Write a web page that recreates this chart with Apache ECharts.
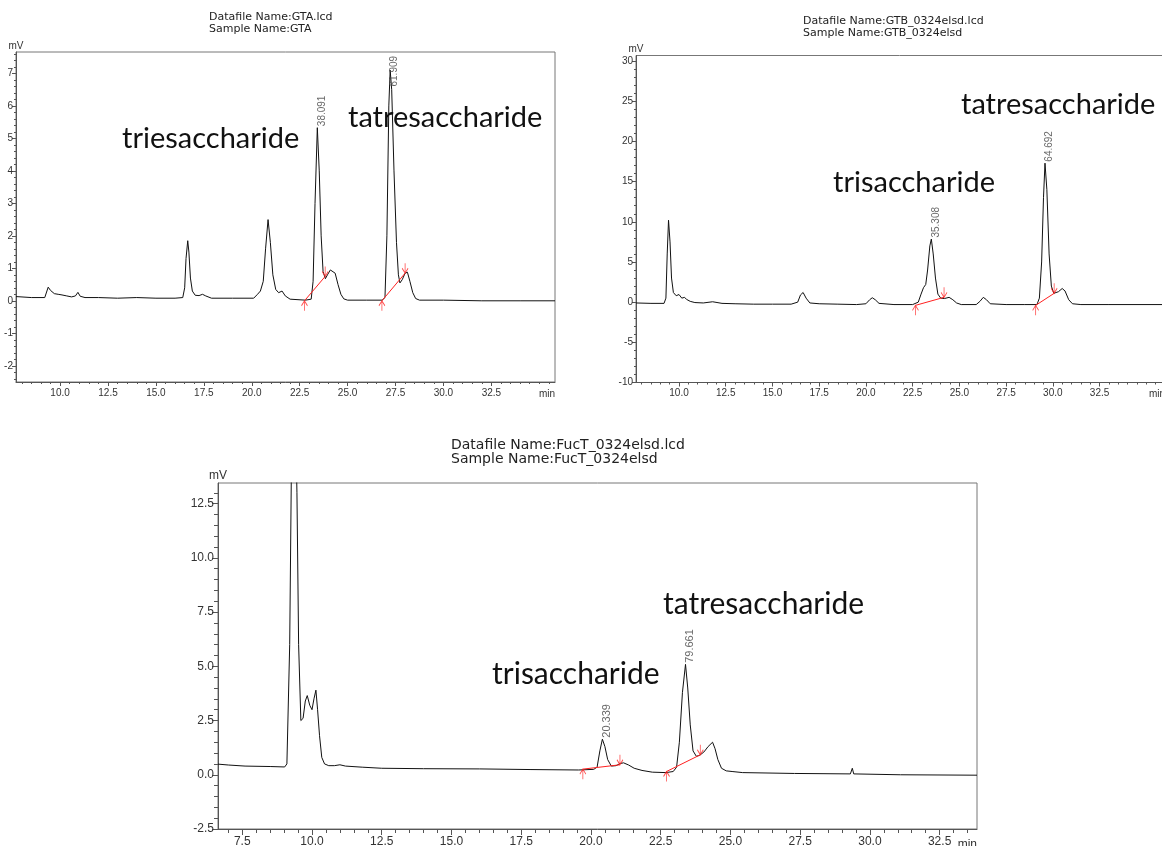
<!DOCTYPE html>
<html><head><meta charset="utf-8">
<script src="https://cdn.jsdelivr.net/npm/echarts@6/dist/echarts.min.js"></script>
<style>html,body{margin:0;padding:0;background:#fff}#c{width:1162px;height:846px}</style>
</head><body><div id="c"></div>
<script>
// ---------- DATA ----------
// GTA chromatogram (top-left): [time min, signal mV]
const gtaTrace = [[7.7,0.13],[8.5,0.1],[9.2,0.1],[9.3,0.15],[9.38,0.42],[9.5,0.32],[9.7,0.22],[9.9,0.2],[10.1,0.18],[10.2,0.21],[10.35,0.15],[10.6,0.12],[10.8,0.15],[10.93,0.26],[11.05,0.14],[11.3,0.1],[12,0.1],[13,0.08],[14,0.1],[15,0.08],[16,0.08],[16.4,0.1],[16.5,0.4],[16.57,1.3],[16.66,1.85],[16.72,1.5],[16.8,0.7],[16.9,0.3],[17.05,0.17],[17.25,0.16],[17.43,0.2],[17.6,0.15],[17.9,0.08],[19,0.08],[20.1,0.08],[20.3,0.2],[20.45,0.3],[20.6,0.6],[20.72,1.6],[20.85,2.5],[20.97,1.8],[21.1,0.8],[21.25,0.35],[21.4,0.25],[21.58,0.3],[21.75,0.15],[22.0,0.05],[22.8,0.02],[23.1,0.05],[23.2,0.6],[23.3,3.0],[23.42,5.33],[23.52,4.0],[23.62,2.0],[23.72,0.9],[23.84,0.68],[23.95,0.8],[24.1,0.95],[24.2,0.93],[24.35,0.85],[24.5,0.5],[24.65,0.2],[24.8,0.06],[25.0,0.02],[26.0,0.02],[26.8,0.02],[26.95,0.1],[27.05,2.0],[27.15,6.0],[27.22,7.1],[27.3,6.5],[27.42,4.0],[27.55,1.8],[27.65,0.8],[27.73,0.55],[27.85,0.65],[28.0,0.85],[28.12,0.88],[28.25,0.6],[28.4,0.25],[28.55,0.07],[28.75,0.02],[30,0.02],[32,0.0],[34,0.0],[35.82,0.0]];
const gtaBaselines = [[[22.75,0.0],[23.83,0.75]],[[26.79,0.0],[28.0,0.85]]];
const gtaPeaks = [[23.42,5.33,'38.091'],[27.22,7.1,'61.909']];
const gtaXTicks = [10,12.5,15,17.5,20,22.5,25,27.5,30,32.5];
const gtaYTicks = [-2,-1,0,1,2,3,4,5,6,7];

// GTB chromatogram (top-right)
const gtbTrace = [[7.7,-0.1],[8.5,-0.15],[9.2,-0.15],[9.3,0.5],[9.37,6.0],[9.44,10.2],[9.52,7.5],[9.6,3.0],[9.7,1.2],[9.85,0.8],[10.0,0.95],[10.15,0.5],[10.3,0.6],[10.4,0.35],[10.6,0.1],[10.85,-0.05],[11.3,-0.1],[11.8,0.05],[12.3,-0.15],[13,-0.2],[14,-0.25],[15,-0.25],[16.0,-0.25],[16.35,0.0],[16.5,0.9],[16.64,1.2],[16.8,0.5],[17.0,-0.1],[17.5,-0.2],[18.5,-0.25],[19.5,-0.3],[20.0,-0.2],[20.2,0.3],[20.34,0.55],[20.5,0.3],[20.7,-0.15],[21.5,-0.3],[22.5,-0.3],[22.8,0.0],[22.95,1.0],[23.08,1.8],[23.2,2.2],[23.3,4.0],[23.42,7.0],[23.5,7.85],[23.6,6.0],[23.72,3.0],[23.85,1.0],[24.0,0.5],[24.2,0.45],[24.45,0.6],[24.65,0.3],[24.85,-0.1],[25.1,-0.3],[25.9,-0.3],[26.1,0.1],[26.28,0.6],[26.45,0.3],[26.65,-0.2],[27.5,-0.3],[28.5,-0.3],[29.15,-0.3],[29.28,0.5],[29.4,5.0],[29.5,13.0],[29.58,17.3],[29.68,14.0],[29.8,6.0],[29.92,2.0],[30.05,1.1],[30.3,1.3],[30.5,1.7],[30.65,1.4],[30.85,0.3],[31.05,-0.2],[31.5,-0.3],[33,-0.3],[36.0,-0.3]];
const gtbBaselines = [[[22.65,-0.4],[24.18,0.6]],[[29.08,-0.4],[30.07,1.1]]];
const gtbPeaks = [[23.5,7.85,'35.308'],[29.58,17.3,'64.692']];
const gtbXTicks = [10,12.5,15,17.5,20,22.5,25,27.5,30,32.5];
const gtbYTicks = [-10,-5,0,5,10,15,20,25,30];

// FucT chromatogram (bottom)
const fucTrace = [[6.63,0.49],[7.0,0.45],[7.6,0.4],[8.5,0.38],[9.02,0.36],[9.1,0.5],[9.2,6.0],[9.26,14.0],[9.36,20.0],[9.46,13.0],[9.52,6.0],[9.6,2.5],[9.68,2.6],[9.76,3.4],[9.83,3.65],[9.92,3.2],[10.0,3.0],[10.07,3.5],[10.14,3.9],[10.2,3.0],[10.27,1.8],[10.35,0.8],[10.45,0.5],[10.6,0.42],[10.8,0.42],[11.0,0.46],[11.2,0.4],[11.8,0.35],[12.5,0.3],[14,0.28],[16,0.27],[17.85,0.24],[19.56,0.22],[20.1,0.25],[20.22,0.35],[20.32,1.1],[20.41,1.64],[20.5,1.3],[20.6,0.7],[20.73,0.4],[20.9,0.42],[21.05,0.52],[21.17,0.55],[21.35,0.45],[21.55,0.3],[21.83,0.2],[22.2,0.12],[22.69,0.1],[22.95,0.15],[23.07,0.35],[23.17,1.5],[23.28,3.8],[23.39,5.09],[23.47,4.0],[23.56,2.3],[23.66,1.1],[23.78,0.85],[23.9,0.9],[24.05,1.05],[24.2,1.3],[24.36,1.5],[24.45,1.2],[24.55,0.7],[24.68,0.3],[24.85,0.18],[25.06,0.15],[25.44,0.1],[27.3,0.06],[29.3,0.04],[29.37,0.3],[29.42,0.04],[31.1,0.0],[33.84,-0.02]];
const fucBaselines = [[[19.71,0.26],[21.04,0.46]],[[22.71,0.15],[23.92,0.92]]];
const fucPeaks = [[20.41,1.64,'20.339'],[23.39,5.09,'79.661']];
const fucXTicks = [7.5,10,12.5,15,17.5,20,22.5,25,27.5,30,32.5];
const fucYTicks = [-2.5,0,2.5,5,7.5,10,12.5];

const titles = [
  ['Datafile Name:GTA.lcd','Sample Name:GTA'],
  ['Datafile Name:GTB_0324elsd.lcd','Sample Name:GTB_0324elsd'],
  ['Datafile Name:FucT_0324elsd.lcd','Sample Name:FucT_0324elsd']
];
const annotations = [
  ['triesaccharide','tatresaccharide'],
  ['trisaccharide','tatresaccharide'],
  ['trisaccharide','tatresaccharide']
];

// ---------- LAYOUT ----------
const AXF = 'Liberation Sans, Arial, sans-serif';
function steps(a, b, s) { const o = []; const n = Math.round((b - a) / s); for (let k = 0; k <= n; k++) o.push(Math.round((a + k * s) * 1000) / 1000); return o; }

const panels = [
  { grid:{left:16, top:52, width:539, height:330}, xMin:7.7, xMax:35.82, yMin:-2.5, yMax:7.66,
    xTicks:gtaXTicks, yTicks:gtaYTicks, xMinor:steps(8,35.5,0.5), yMinor:steps(-2.4,7.6,0.2),
    yFmt:v=>String(v), fs:10, xMargin:6, yMargin:3, tick:4,
    trace:gtaTrace, bases:gtaBaselines, peaks:gtaPeaks },
  { grid:{left:636, top:55.5, width:529, height:327}, xMin:7.7, xMax:36.0, yMin:-10, yMax:30.7,
    xTicks:gtbXTicks, yTicks:gtbYTicks, xMinor:steps(8,36,0.5), yMinor:steps(-10,30,1),
    yFmt:v=>String(v), fs:10, xMargin:6, yMargin:3, tick:4,
    trace:gtbTrace, bases:gtbBaselines, peaks:gtbPeaks },
  { grid:{left:218, top:483, width:759, height:346}, xMin:6.63, xMax:33.84, yMin:-2.5, yMax:13.45,
    xTicks:fucXTicks, yTicks:fucYTicks, xMinor:steps(7,33.5,0.5), yMinor:steps(-2.5,13,0.5),
    yFmt:v=>v.toFixed(1), fs:12, xMargin:7, yMargin:4, tick:6,
    trace:fucTrace, bases:fucBaselines, peaks:fucPeaks }
];

const AX = '#555';
const grids = [], xAxes = [], yAxes = [], series = [];
const upArrow = 'path://M0,5 L3,0 L6,5 M3,0 L3,10';
const downArrow = 'path://M0,5 L3,10 L6,5 M3,10 L3,0';

panels.forEach((p, i) => {
  grids.push(Object.assign({show:true, borderColor:'#777', borderWidth:1, backgroundColor:'transparent', containLabel:false, outerBoundsMode:'none'}, p.grid));
  const minorLen = Math.max(2, Math.round(p.tick * 0.6));
  // main x axis: all (minor) ticks + major labels
  xAxes.push({type:'value', gridIndex:i, position:'bottom', min:p.xMin, max:p.xMax,
    axisLine:{show:true, onZero:false, lineStyle:{color:AX, width:1}},
    axisTick:{show:true, inside:false, length:minorLen, customValues:p.xMinor, lineStyle:{color:AX}},
    axisLabel:{show:true, customValues:p.xTicks, formatter:v=>v.toFixed(1), fontSize:p.fs, fontFamily:AXF, color:'#333', margin:p.xMargin},
    splitLine:{show:false},
    name:'min', nameLocation:'end', nameGap:0,
    nameTextStyle:{align:'right', verticalAlign:'top', padding:[p.xMargin+p.tick-3,0,0,0], fontSize:p.fs, fontFamily:AXF, color:'#333'}});
  // overlay axis: longer major ticks only
  xAxes.push({type:'value', gridIndex:i, position:'bottom', min:p.xMin, max:p.xMax,
    axisLine:{show:true, onZero:false, lineStyle:{color:'rgba(0,0,0,0)', width:1}},
    axisTick:{show:true, inside:false, length:p.tick, customValues:p.xTicks, lineStyle:{color:AX}},
    axisLabel:{show:true, customValues:p.xTicks, formatter:()=>'', fontSize:p.fs}, splitLine:{show:false}});
  yAxes.push({type:'value', gridIndex:i, position:'left', min:p.yMin, max:p.yMax,
    axisLine:{show:true, onZero:false, lineStyle:{color:AX, width:1}},
    axisTick:{show:true, inside:false, length:minorLen, customValues:p.yMinor, lineStyle:{color:AX}},
    axisLabel:{show:true, customValues:p.yTicks, formatter:p.yFmt, fontSize:p.fs, fontFamily:AXF, color:'#333', margin:p.yMargin},
    splitLine:{show:false},
    name:'mV', nameLocation:'end', nameGap:1,
    nameTextStyle:{align:'center', verticalAlign:'bottom', fontSize:p.fs, fontFamily:AXF, color:'#333'}});
  yAxes.push({type:'value', gridIndex:i, position:'left', min:p.yMin, max:p.yMax,
    axisLine:{show:true, onZero:false, lineStyle:{color:'rgba(0,0,0,0)', width:1}},
    axisTick:{show:true, inside:false, length:p.tick, customValues:p.yTicks, lineStyle:{color:AX}},
    axisLabel:{show:true, customValues:p.yTicks, formatter:()=>'', fontSize:p.fs}, splitLine:{show:false}});

  const xi = 2 * i, yi = 2 * i;
  series.push({type:'line', xAxisIndex:xi, yAxisIndex:yi, data:p.trace, showSymbol:false, symbol:'none',
    lineStyle:{color:'#111', width:1}, clip:true, silent:true, animation:false, z:3});
  p.bases.forEach(seg => {
    series.push({type:'line', xAxisIndex:xi, yAxisIndex:yi, data:seg, symbol:'none',
      lineStyle:{color:'#ff2020', width:1}, silent:true, animation:false, z:4});
  });
  series.push({type:'scatter', xAxisIndex:xi, yAxisIndex:yi, data:p.bases.map(s => s[0]),
    symbol:upArrow, symbolSize:[6,10], symbolOffset:[0,'50%'], symbolKeepAspect:false,
    itemStyle:{color:'rgba(0,0,0,0)', borderColor:'#ff2020', borderWidth:1}, silent:true, animation:false, z:5});
  series.push({type:'scatter', xAxisIndex:xi, yAxisIndex:yi, data:p.bases.map(s => s[1]),
    symbol:downArrow, symbolSize:[6,10], symbolOffset:[0,'-50%'], symbolKeepAspect:false,
    itemStyle:{color:'rgba(0,0,0,0)', borderColor:'#ff2020', borderWidth:1}, silent:true, animation:false, z:5});
  // peak area labels, kept inside the frame
  const unitsPerPx = (p.yMax - p.yMin) / p.grid.height;
  const labelLen = 36;
  series.push({type:'scatter', xAxisIndex:xi, yAxisIndex:yi,
    data:p.peaks.map(pk => [pk[0], Math.min(pk[1], p.yMax - labelLen * unitsPerPx), pk[2]]),
    symbolSize:1, itemStyle:{color:'rgba(0,0,0,0)'}, silent:true, animation:false, z:6,
    label:{show:true, formatter:d => d.data[2], rotate:90, position:[5,-1], align:'left', verticalAlign:'middle',
      fontSize:p.fs === 12 ? 11 : 10, fontFamily:AXF, color:'#444'}});
});

// ---------- TEXT ----------
const titleSpecs = [
  {x:209, y:[16.7,29.3], fs:11},
  {x:803, y:[20.7,33.3], fs:11},
  {x:451, y:[445.7,459.8], fs:14}
];
const annoSpecs = [
  [{x:122, base:149, fs:29}, {x:348, base:128, fs:29}],
  [{x:833, base:193, fs:29}, {x:961, base:115, fs:29}],
  [{x:492, base:685, fs:30}, {x:663, base:615, fs:30}]
];
const graphic = [];
titles.forEach((t, i) => {
  t.forEach((line, j) => {
    graphic.push({type:'text', x:titleSpecs[i].x, y:titleSpecs[i].y[j], silent:true,
      style:{text:line, fontSize:titleSpecs[i].fs, fontFamily:'DejaVu Sans, sans-serif', fill:'#222', verticalAlign:'middle'}});
  });
});
annotations.forEach((a, i) => {
  a.forEach((txt, j) => {
    const s = annoSpecs[i][j];
    graphic.push({type:'text', x:s.x, y:s.base - Math.round(s.fs * 0.36), silent:true,
      style:{text:txt, fontSize:s.fs, fontFamily:'Lato, sans-serif', fill:'#111', verticalAlign:'middle'}});
  });
});

const chart = echarts.init(document.getElementById('c'), null, {renderer:'canvas'});
chart.setOption({
  animation:false,
  backgroundColor:'#ffffff',
  grid:grids, xAxis:xAxes, yAxis:yAxes, series:series, graphic:graphic
});
</script></body></html>
